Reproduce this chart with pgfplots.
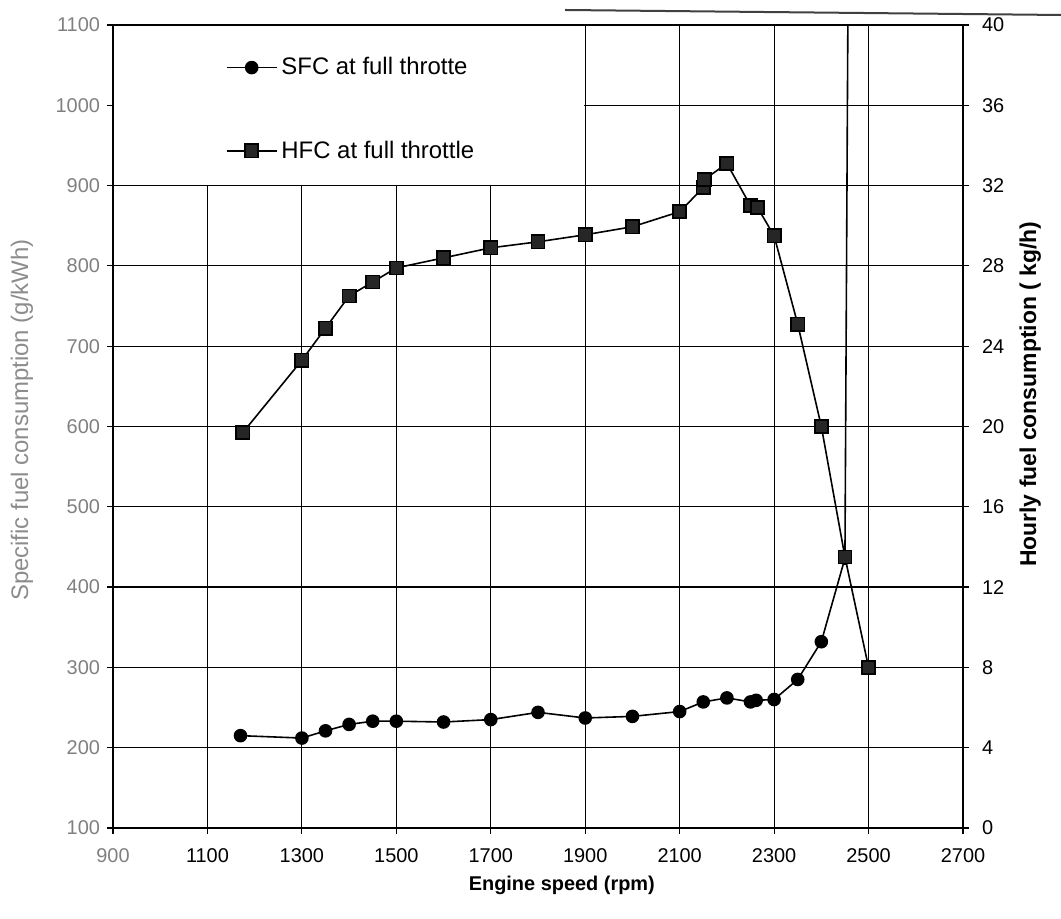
\documentclass[border=0pt]{standalone}
\usepackage{fontspec}
\setmainfont{Liberation Sans}
\usepackage{pgfplots}
\pgfplotsset{compat=1.18}
\begin{document}
\begin{tikzpicture}
\path[use as bounding box] (-56.5bp,-45.5bp) rectangle (474bp,414bp);
\begin{axis}[
  scale only axis, width=425bp, height=401.5bp,
  at={(0,0)}, anchor=south west,
  xmin=900, xmax=2700, ymin=100, ymax=1100,
  xtick={900,1100,...,2700}, ytick={100,200,...,1100},
  xticklabels={\textcolor{black!50}{900},1100,1300,1500,1700,1900,2100,2300,2500,2700},
  xtick pos=bottom, ytick pos=left,
  grid=major, grid style={black, line width=0.6bp},
  axis line style={black, line width=0.8bp},
  tick align=outside, major tick length=3bp, tick style={black, line width=0.6bp},
  ticklabel style={font=\fontsize{10}{12}\selectfont},
  yticklabel style={text=black!50},
  xticklabel style={yshift=-4bp},
  /pgf/number format/assume math mode=true,
  /pgf/number format/1000 sep={},
  xlabel={\bfseries Engine speed (rpm)},
  xlabel style={at={(axis description cs:0.528,-0.071)}, anchor=center, font=\fontsize{10}{12}\selectfont},
  ylabel={Specific fuel consumption (g/kWh)},
  ylabel style={at={(axis description cs:-0.107,0.508)}, anchor=center, text=black!45, font=\fontsize{12}{14}\selectfont},
  clip=true,
]
\fill[white] ([xshift=0.5bp,yshift=0.4bp]axis cs:900,900) rectangle ([xshift=-0.4bp,yshift=-0.5bp]axis cs:1900,1100);
\addplot[black, line width=0.8bp, mark=*, mark size=3bp, mark options={fill=black}] coordinates {
(1170,215) (1300,212) (1350,221) (1400,229) (1450,233) (1500,233)
(1600,232) (1700,235) (1800,244) (1900,237) (2000,239) (2100,245)
(2150,257) (2200,262) (2250,257) (2262,259) (2300,260) (2350,285)
(2400,332) (2450,436)
};
\addplot[black, line width=0.8bp] coordinates {(2450,436) (2458,1300)};
\end{axis}
\begin{axis}[
  scale only axis, width=425bp, height=401.5bp,
  at={(0,0)}, anchor=south west,
  xmin=900, xmax=2700, ymin=0, ymax=40,
  axis x line=none, axis y line=right,
  axis line style={black, line width=0.8bp, -},
  ytick={0,4,...,40},
  tick align=outside, major tick length=3bp, tick style={black, line width=0.6bp},
  ticklabel style={font=\fontsize{10}{12}\selectfont},
  yticklabel style={xshift=3bp},
  /pgf/number format/assume math mode=true,
  ylabel={\bfseries Hourly fuel consumption ( kg/h)},
  ylabel style={at={(axis description cs:1.079,0.54)}, anchor=center, font=\fontsize{11.5}{13}\selectfont},
  legend cell align=left,
  legend image code/.code={\draw[mark repeat=2,mark phase=2] plot coordinates {(0bp,0bp) (12.5bp,0bp) (25bp,0bp)};},
  legend style={at={(axis description cs:0.010,0.985)}, anchor=north west, fill=none, draw=none,
    inner xsep=52bp, inner ysep=8bp, row sep=27.5bp,
    font=\fontsize{12}{14}\selectfont},
  clip=true,
]
\addlegendimage{black, line width=0.8bp, mark=*, mark size=3bp, mark options={fill=black}}
\addlegendentry{SFC at full throtte}
\addplot[black, line width=0.8bp, mark=square*, mark size=3.3bp, mark options={fill=black!85}] coordinates {
(1175,19.7) (1300,23.3) (1350,24.9) (1400,26.5) (1450,27.2) (1500,27.9)
(1600,28.4) (1700,28.9) (1800,29.2) (1900,29.55) (2000,29.95) (2100,30.7)
(2150,31.9) (2152,32.3) (2200,33.1) (2250,31.0) (2265,30.9) (2300,29.5)
(2350,25.1) (2400,20.0) (2450,13.5) (2500,8.0)
};
\addlegendentry{HFC at full throttle}
\end{axis}
\draw[line width=1bp, black!75] (226bp,409bp) -- (474bp,406.5bp);
\end{tikzpicture}
\end{document}
